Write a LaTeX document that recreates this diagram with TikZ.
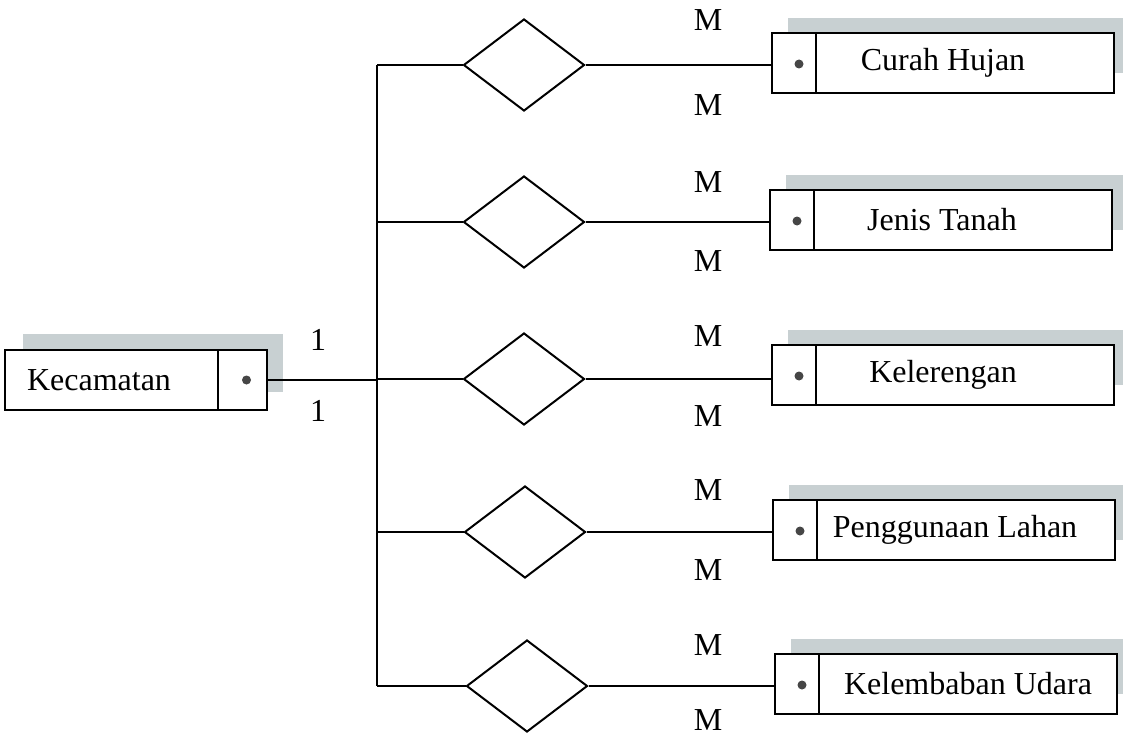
\documentclass[tikz,border=0pt]{standalone}
\usepackage{fontspec}
\setmainfont{Liberation Serif}
\usetikzlibrary{shapes.geometric,calc,backgrounds}
\definecolor{shadowfill}{RGB}{200,208,210}
\definecolor{dotgray}{RGB}{70,70,70}
\begin{document}
\begin{tikzpicture}[x=0.5pt,y=-0.5pt,
  line width=1pt,
  txt/.style={font=\fontsize{16}{19}\selectfont, inner sep=0pt},
  keycell/.style={draw, fill=white, minimum width=22pt, minimum height=30pt, inner sep=0pt, outer sep=0pt},
  namecell/.style={draw, fill=white, minimum width=149pt, minimum height=30pt, inner sep=0pt, outer sep=0pt, anchor=west},
  rel/.style={draw, shape=diamond, minimum width=60.5pt, minimum height=46pt, inner sep=0pt},
  keydot/.style={circle, fill=dotgray, inner sep=0pt, minimum size=4.5pt},
  card/.style={txt},
  conn/.style={line width=1pt}
]
\useasboundingbox (0,0) rectangle (1123,738);

% --- Kecamatan entity ---
\node[keycell, minimum width=24.5pt] (kk) at (242.5,380) {};
\node[namecell, minimum width=106.5pt, anchor=east] (kn) at (kk.west) {};
\node[txt] (kt) at (99,380) {Kecamatan};
\node[keydot] (kdot) at ($(kk.center)+(4,0)$) {};

% --- bus line ---
\coordinate (bt) at (377,65);
\coordinate (bb) at (377,686);
\draw[conn] (bt) -- (bb);
\draw[conn] (kk.east) -- (kk.east -| bt);
\node[card] (one1) at (318,340) {1};
\node[card] (one2) at (318,411) {1};

% --- relationships and related entities ---
\foreach \i/\ry/\dx/\by/\kx/\tx/\mt/\mb/\name in {
  1/65/524/63/794/943/20/105/{Curah Hujan},
  2/222/524/220/792/942/182/261/{Jenis Tanah},
  3/379/524/375/794/943/336/416/{Kelerengan},
  4/532/525/530/795/955/490/570/{Penggunaan Lahan},
  5/686/527/684/797/968/645/720/{Kelembaban Udara}}{
  \node[rel] (d\i) at (\dx,\ry) {};
  \node[keycell] (k\i) at (\kx,\by) {};
  \node[namecell] (n\i) at (k\i.east) {};
  \node[txt] (t\i) at (\tx,\by) {\name};
  \node[keydot] (dot\i) at ($(k\i.center)+(5,1)$) {};
  \draw[conn] (d\i.west -| bt) -- (d\i.west);
  \draw[conn] (d\i.east) -- (d\i.east -| k\i.west);
  \node[card] (mt\i) at (708,\mt) {M};
  \node[card] (mb\i) at (708,\mb) {M};
}

% --- box shadows ---
\begin{scope}[on background layer]
  \clip (0,0) rectangle (1123,738);
  \fill[shadowfill] ($(kn.north west)+(18,-16)$) rectangle ($(kk.south east)+(16,-18)$);
  \foreach \i in {1,...,5}{
    \fill[shadowfill] ($(k\i.north west)+(16,-15)$) rectangle ($(n\i.south east)+(16,-20)$);
  }
\end{scope}
\end{tikzpicture}
\end{document}
